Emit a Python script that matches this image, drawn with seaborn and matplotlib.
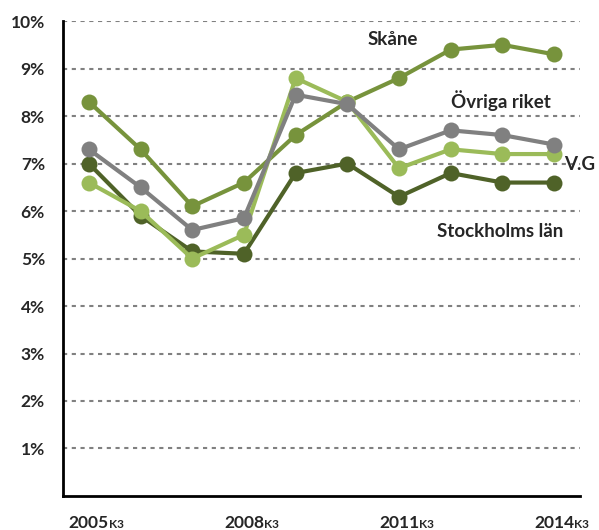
import numpy as np
import pandas as pd
import matplotlib.pyplot as plt
import seaborn as sns

# --- data ---
years = [2005, 2006, 2007, 2008, 2009, 2010, 2011, 2012, 2013, 2014]
stockholm = [7.0, 5.9, 5.15, 5.1, 6.8, 7.0, 6.3, 6.8, 6.6, 6.6]
skane = [8.3, 7.3, 6.1, 6.6, 7.6, 8.3, 8.8, 9.4, 9.5, 9.3]
vg = [6.6, 6.0, 5.0, 5.5, 8.8, 8.3, 6.9, 7.3, 7.2, 7.2]
ovriga = [7.3, 6.5, 5.6, 5.85, 8.45, 8.25, 7.3, 7.7, 7.6, 7.4]

series = ['Stockholms län', 'Skåne', 'V.G', 'Övriga riket']
colors = ['#4F6228', '#77933C', '#9BBB59', '#808080']
tick_years = [2005, 2008, 2011, 2014]

df = pd.DataFrame({'pos': np.arange(len(years)),
                   'Stockholms län': stockholm, 'Skåne': skane,
                   'V.G': vg, 'Övriga riket': ovriga})
long = df.melt(id_vars='pos', var_name='Region', value_name='Andel')

sns.set_style('white')
plt.rcParams['font.family'] = ['Lato', 'DejaVu Sans']

fig = plt.figure(figsize=(5.99, 5.30), dpi=100)
ax = fig.add_axes([0.1052, 0.0642, 0.863, 0.896])

# dashed horizontal grid
for y in range(1, 11):
    ax.axhline(y, color='#808080', linestyle=(0, (2, 2.2)), linewidth=1.5, zorder=0)

sns.lineplot(data=long, x='pos', y='Andel', hue='Region', hue_order=series,
             palette=colors, marker='o', markersize=11.5, markeredgewidth=0,
             linewidth=3, legend=False, ax=ax)

ax.set_xlim(-0.5, len(years) - 0.5)
ax.set_ylim(0, 10)
ax.set_yticks(range(1, 11))
ax.set_yticklabels([f'{v}%' for v in range(1, 11)], fontsize=12.5, fontweight='bold')
ticks = [years.index(y) for y in tick_years]
ax.set_xticks(ticks)
ax.set_xticklabels([str(y) for y in tick_years], fontsize=12.5, fontweight='bold')
ax.tick_params(axis='y', length=0, pad=13)
ax.tick_params(axis='x', length=0, pad=14)
ax.set_xlabel('')
ax.set_ylabel('')

# subscript "K3" after each year label
for t in ticks:
    ax.annotate('K3', xy=(t, 0), xycoords='data', xytext=(14.3, -23),
                textcoords='offset points', fontsize=8.5, fontweight='bold',
                ha='left', va='baseline', annotation_clip=False)

for side in ['top', 'right']:
    ax.spines[side].set_visible(False)
for side in ['left', 'bottom']:
    ax.spines[side].set_color('black')
    ax.spines[side].set_linewidth(2)

# series labels inside the plot
ax.text(5.87, 9.61, 'Skåne', fontsize=13.5, fontweight='bold', ha='center', va='center')
ax.text(7.97, 8.33, 'Övriga riket', fontsize=13.5, fontweight='bold', ha='center', va='center')
ax.text(9.20, 6.97, 'V.G', fontsize=13.5, fontweight='bold', ha='left', va='center')
ax.text(7.96, 5.56, 'Stockholms län', fontsize=13.5, fontweight='bold', ha='center', va='center')

fig.savefig('out.png', dpi=100)
